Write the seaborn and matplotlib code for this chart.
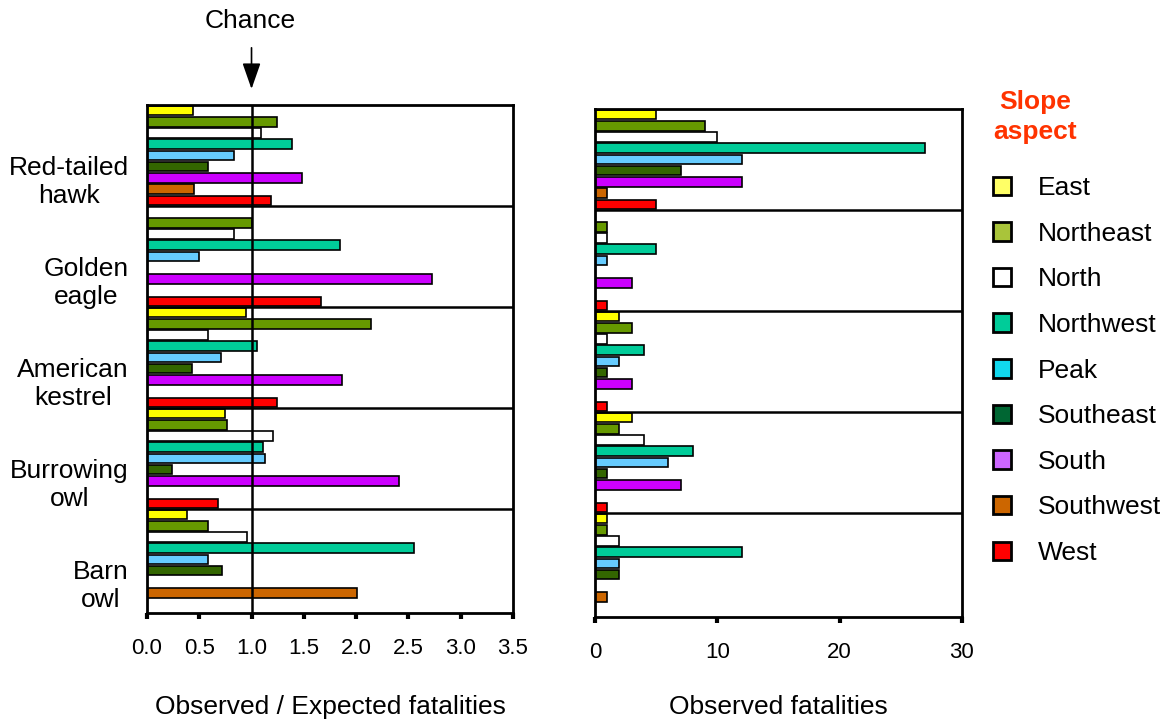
import matplotlib.pyplot as plt
import numpy as np
import pandas as pd
import seaborn as sns
from matplotlib.patches import Patch

# species groups (top to bottom) and slope aspects (bar order inside a group)
species = ['Red-tailed\nhawk', 'Golden\neagle', 'American\nkestrel', 'Burrowing\nowl', 'Barn\nowl']
aspects = ['East', 'Northeast', 'North', 'Northwest', 'Peak', 'Southeast', 'South', 'Southwest', 'West']

# observed / expected fatalities
ratio_redtail = [0.44, 1.24, 1.09, 1.39, 0.83, 0.58, 1.48, 0.45, 1.19]
ratio_golden = [0, 1.00, 0.83, 1.85, 0.50, 0, 2.73, 0, 1.66]
ratio_kestrel = [0.95, 2.14, 0.58, 1.05, 0.71, 0.43, 1.87, 0, 1.24]
ratio_burrowing = [0.75, 0.77, 1.21, 1.11, 1.13, 0.24, 2.41, 0, 0.68]
ratio_barn = [0.38, 0.58, 0.96, 2.55, 0.58, 0.72, 0, 2.01, 0]

# observed fatalities
count_redtail = [5, 9, 10, 27, 12, 7, 12, 1, 5]
count_golden = [0, 1, 1, 5, 1, 0, 3, 0, 1]
count_kestrel = [2, 3, 1, 4, 2, 1, 3, 0, 1]
count_burrowing = [3, 2, 4, 8, 6, 1, 7, 0, 1]
count_barn = [1, 1, 2, 12, 2, 2, 0, 1, 0]

bar_colors = ['#FFFF00', '#669900', '#FFFFFF', '#00CC99', '#66CCFF',
              '#336600', '#CC00FF', '#CC6600', '#FF0000']
legend_colors = ['#FFFF66', '#A9C43A', '#FFFFFF', '#00CC99', '#11D8EE',
                 '#006633', '#CC66FF', '#CC6600', '#FF0000']

ratios = [ratio_redtail, ratio_golden, ratio_kestrel, ratio_burrowing, ratio_barn]
counts = [count_redtail, count_golden, count_kestrel, count_burrowing, count_barn]
rows = []
for sp, r, c in zip(species, ratios, counts):
    for a, rv, cv in zip(aspects, r, c):
        rows.append({'species': sp, 'aspect': a, 'ratio': rv, 'count': cv})
df = pd.DataFrame(rows)

sns.set_style('white')
plt.rcParams['font.family'] = ['Liberation Sans', 'DejaVu Sans']
plt.rcParams['text.color'] = 'black'
plt.rcParams['axes.labelcolor'] = 'black'
plt.rcParams['xtick.color'] = 'black'
plt.rcParams['ytick.color'] = 'black'

fig = plt.figure(figsize=(11.69, 7.24), dpi=100)
ax1 = fig.add_axes([0.1257, 0.1533, 0.3131, 0.7017])
ax2 = fig.add_axes([0.5090, 0.1478, 0.3139, 0.7017])

for ax, col in [(ax1, 'ratio'), (ax2, 'count')]:
    sns.barplot(data=df, x=col, y='species', hue='aspect', order=species,
                hue_order=aspects, palette=bar_colors, orient='h', width=1.0,
                gap=0.15, saturation=1, edgecolor='black', linewidth=1.2,
                errorbar=None, legend=False, ax=ax)
    ax.set_ylim(4.53, -0.5)
    for y in [0.5, 1.5, 2.5, 3.5]:
        ax.axhline(y, color='black', lw=1.8, zorder=5)
    for s in ax.spines.values():
        s.set_visible(True)
        s.set_color('black')
        s.set_linewidth(2)
    ax.tick_params(axis='x', bottom=True, direction='out', length=4, width=3,
                   labelsize=16, pad=14, colors='black')
    ax.tick_params(axis='y', left=False, length=0)
    ax.set_ylabel('')

ax1.set_xlim(0, 3.5)
ax1.set_xticks(np.arange(0, 3.51, 0.5))
ax1.set_xticklabels([f'{v:.1f}' for v in np.arange(0, 3.51, 0.5)])
ax1.axvline(1.0, color='black', lw=1.8, zorder=6)
ax1.set_yticks([i + 0.22 for i in range(len(species))])
ax1.set_yticklabels(species, fontsize=19, color='black')
for lab in ax1.get_yticklabels():
    lab.set_multialignment('center')
ax1.tick_params(axis='y', pad=13)
ax1.set_xlabel('Observed / Expected fatalities', fontsize=19, labelpad=26)

ax2.set_xlim(0, 30)
ax2.set_xticks([0, 10, 20, 30])
ax2.set_yticks([])
ax2.set_xlabel('Observed fatalities', fontsize=19, labelpad=23)

# chance arrow
ax1.annotate('', xy=(1.0, 1.026), xycoords=('data', 'axes fraction'),
             xytext=(1.0, 1.118), textcoords=('data', 'axes fraction'),
             arrowprops=dict(arrowstyle='-|>,head_length=0.8,head_width=0.28',
                             color='black', lw=1.2, mutation_scale=20))
fig.text(250 / 1169, 1 - 21 / 724, 'Chance', ha='center', va='center', fontsize=19)

# legend
fig.text(1035 / 1169, 1 - 117 / 724, 'Slope\naspect', ha='center', va='center',
         fontsize=19, fontweight='bold', color='#FF3300', linespacing=1.35)
handles = [Patch(facecolor=c, edgecolor='black', linewidth=2) for c in legend_colors]
fig.legend(handles, aspects, loc='upper left', bbox_to_anchor=(993 / 1169, 1 - 176 / 724),
           frameon=False, fontsize=19, handlelength=0.7, handleheight=0.7,
           handletextpad=1.0, labelspacing=0.82, borderpad=0, borderaxespad=0)

plt.savefig('out.png', dpi=100)
